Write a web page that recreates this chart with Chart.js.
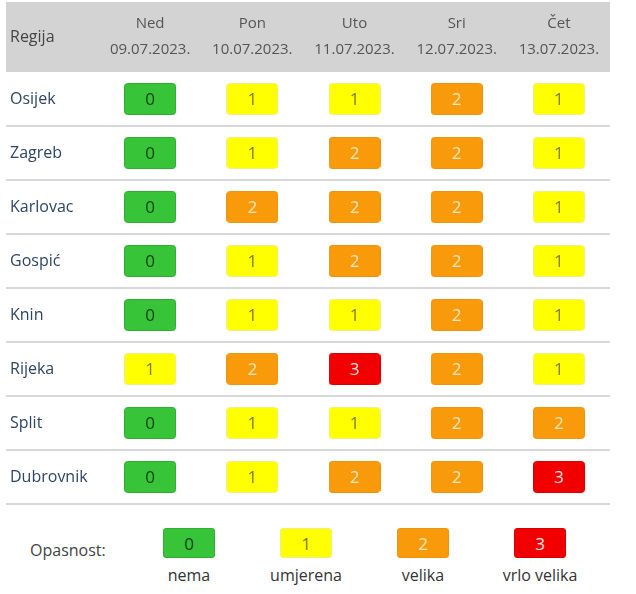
<!DOCTYPE html>
<html lang="hr">
<head>
<meta charset="utf-8">
<title>Opasnost po regijama</title>
<script src="https://cdn.jsdelivr.net/npm/chart.js@4.4.0/dist/chart.umd.min.js"></script>
<style>
    body { margin: 0; background: #fff; font-family: "Open Sans", sans-serif; }
    #omot { position: relative; width: 636px; height: 510px; }
    #legenda { position: relative; width: 636px; height: 84px; }
    #legenda .naslov { position: absolute; left: 30px; top: 29px; font-size: 16px; color: #444; }
    #legenda .stavka { position: absolute; top: 18px; width: 116px; text-align: center; }
    #legenda .kutija { width: 52px; height: 30px; line-height: 30px; margin: 0 auto; border-radius: 3px; font-size: 17px; box-sizing: border-box; }
    #legenda .oznaka { margin-top: 6px; font-size: 16px; color: #333; line-height: 22px; }
</style>
</head>
<body>
<div id="omot"><canvas id="tablica" width="636" height="510"></canvas></div>
<div id="legenda"></div>
<script>
const regije = ['Osijek', 'Zagreb', 'Karlovac', 'Gospić', 'Knin', 'Rijeka', 'Split', 'Dubrovnik'];
const dani = ['Ned', 'Pon', 'Uto', 'Sri', 'Čet'];
const datumi = ['09.07.2023.', '10.07.2023.', '11.07.2023.', '12.07.2023.', '13.07.2023.'];

// razina opasnosti po regiji (redak) i danu (stupac)
const opasnost = [
    [0, 1, 1, 2, 1], // Osijek
    [0, 1, 2, 2, 1], // Zagreb
    [0, 2, 2, 2, 1], // Karlovac
    [0, 1, 2, 2, 1], // Gospić
    [0, 1, 1, 2, 1], // Knin
    [1, 2, 3, 2, 1], // Rijeka
    [0, 1, 1, 2, 2], // Split
    [0, 1, 2, 2, 3]  // Dubrovnik
];

const razine = [0, 1, 2, 3];
const nazivRazina = ['nema', 'umjerena', 'velika', 'vrlo velika'];
const naslovRegija = 'Regija';
const naslovLegende = 'Opasnost:';

const boje = ['#38c438', '#ffff00', '#f99a0a', '#f20000'];
const rubovi = ['#2fae2f', '#f0f080', '#ef9410', '#d80000'];
const bojeTeksta = ['#163f16', '#7d7d2a', '#ffe8bf', '#ffeaea'];

const FONT = '"Open Sans", sans-serif';

// slicice za celije (pointStyle)
function napraviKutiju(boja, rub) {
    const c = document.createElement('canvas');
    c.width = 52;
    c.height = 32;
    const g = c.getContext('2d');
    g.beginPath();
    g.roundRect(0.5, 0.5, 51, 31, 3);
    g.fillStyle = boja;
    g.fill();
    g.strokeStyle = rub;
    g.lineWidth = 1;
    g.stroke();
    return c;
}
const kutije = razine.map(r => napraviKutiju(boje[r], rubovi[r]));

const tocke = [];
regije.forEach((regija, i) => {
    dani.forEach((dan, j) => {
        tocke.push({ x: dan, y: regija, v: opasnost[i][j] });
    });
});

const pozadinaTablice = {
    id: 'pozadinaTablice',
    beforeDraw(chart) {
        const { ctx, chartArea, scales } = chart;
        const xs = scales.x, ys = scales.y;
        const lijevo = ys.left - 4;
        ctx.save();
        ctx.fillStyle = '#d3d3d3';
        ctx.fillRect(lijevo, xs.top, chartArea.right - lijevo, chartArea.top - xs.top);

        ctx.fillStyle = '#444';
        ctx.font = '16px ' + FONT;
        ctx.textAlign = 'left';
        ctx.textBaseline = 'middle';
        ctx.fillText(naslovRegija, ys.left, (xs.top + chartArea.top) / 2);

        const korak = ys.getPixelForValue(1) - ys.getPixelForValue(0);
        ctx.strokeStyle = '#d8d8d8';
        ctx.lineWidth = 2;
        regije.forEach((r, i) => {
            const y = Math.round(ys.getPixelForValue(i) + korak / 2);
            ctx.beginPath();
            ctx.moveTo(lijevo, y);
            ctx.lineTo(chartArea.right, y);
            ctx.stroke();
        });
        ctx.restore();
    },
    afterDatasetsDraw(chart) {
        const { ctx } = chart;
        const meta = chart.getDatasetMeta(0);
        const podaci = chart.data.datasets[0].data;
        ctx.save();
        ctx.font = '17px ' + FONT;
        ctx.textAlign = 'center';
        ctx.textBaseline = 'middle';
        meta.data.forEach((el, k) => {
            const v = podaci[k].v;
            ctx.fillStyle = bojeTeksta[v];
            ctx.fillText(String(v), el.x, el.y + 1);
        });
        ctx.restore();
    }
};

new Chart(document.getElementById('tablica'), {
    type: 'scatter',
    data: {
        datasets: [{
            data: tocke,
            pointStyle: ctx => kutije[ctx.raw.v],
            pointRadius: 26,
            pointHoverRadius: 26
        }]
    },
    options: {
        responsive: false,
        animation: false,
        events: [],
        layout: { autoPadding: false, padding: { top: 2, left: 10, right: 26, bottom: 6 } },
        plugins: {
            legend: { display: false },
            tooltip: { enabled: false }
        },
        scales: {
            x: {
                type: 'category',
                position: 'top',
                labels: dani,
                offset: true,
                grid: { display: false, drawTicks: false },
                border: { display: false },
                afterFit: s => { s.height = 70; s.paddingLeft = 0; s.paddingRight = 0; },
                ticks: {
                    padding: 9,
                    maxRotation: 0,
                    autoSkip: false,
                    color: '#555',
                    font: { family: FONT, size: 15, lineHeight: '26px' },
                    callback: (v, i) => [dani[i], datumi[i]]
                }
            },
            y: {
                type: 'category',
                labels: regije,
                offset: true,
                grid: { display: false, drawTicks: false },
                border: { display: false },
                afterFit: s => { s.width = 89; s.paddingTop = 0; s.paddingBottom = 0; },
                ticks: {
                    crossAlign: 'far',
                    autoSkip: false,
                    color: '#2d4665',
                    font: { family: FONT, size: 16 }
                }
            }
        }
    },
    plugins: [pozadinaTablice]
});

// legenda
const legenda = document.getElementById('legenda');
const naslov = document.createElement('div');
naslov.className = 'naslov';
naslov.textContent = naslovLegende;
legenda.appendChild(naslov);
razine.forEach((r, i) => {
    const stavka = document.createElement('div');
    stavka.className = 'stavka';
    stavka.style.left = (131 + i * 117) + 'px';
    stavka.innerHTML = `
        <div class="kutija" style="background:${boje[r]};border:1px solid ${rubovi[r]};color:${bojeTeksta[r]}">${r}</div>
        <div class="oznaka">${nazivRazina[r]}</div>
    `;
    legenda.appendChild(stavka);
});
</script>
</body>
</html>
